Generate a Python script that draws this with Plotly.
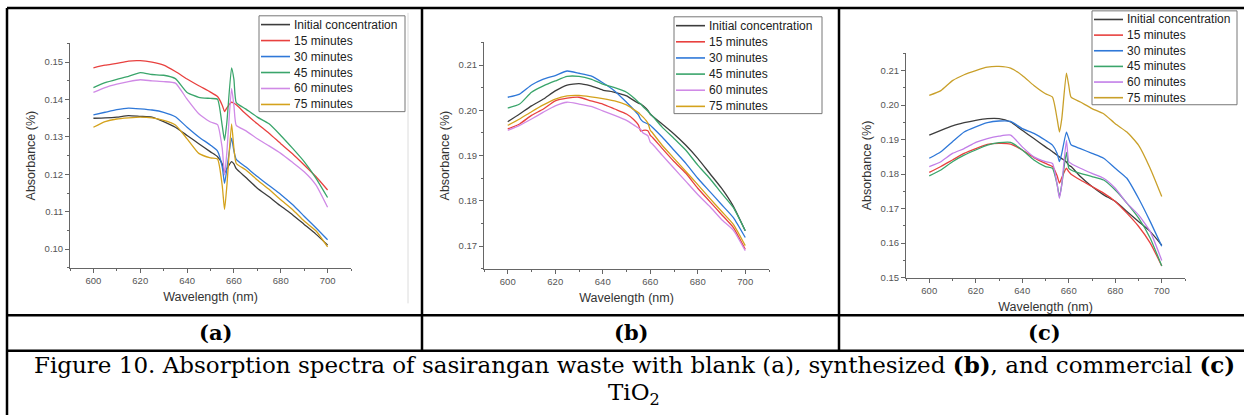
import plotly.graph_objects as go

W, H = 1244, 420

# Wavelength grid (nm) shared by all spectra
wavelength = [600, 605, 610, 615, 620, 625, 630, 635, 640, 645, 650, 653, 655,
              656, 657, 659, 660, 661, 665, 670, 675, 680, 685, 690, 695, 700]

series_names = ["Initial concentration", "15 minutes", "30 minutes",
                "45 minutes", "60 minutes", "75 minutes"]

# (a) blank
a_init = [.1350, .1351, .1353, .1357, .1355, .1353, .1341, .1326, .1304, .1282, .1260, .1247, .1228,
          .1203, .1215, .1234, .1228, .1215, .1192, .1163, .1140, .1115, .1092, .1066, .1040, .1011]
a_15 = [.1485, .1492, .1497, .1503, .1504, .1500, .1492, .1475, .1455, .1437, .1420, .1408, .1385,
        .1368, .1378, .1393, .1390, .1386, .1362, .1335, .1310, .1282, .1255, .1225, .1194, .1158]
a_30 = [.1359, .1366, .1373, .1377, .1375, .1372, .1366, .1354, .1326, .1300, .1278, .1262, .1220,
        .1176, .1215, .1297, .1262, .1240, .1220, .1194, .1170, .1146, .1119, .1088, .1057, .1025]
a_45 = [.1432, .1445, .1454, .1462, .1472, .1467, .1465, .1456, .1419, .1406, .1403, .1401, .1330,
        .1291, .1340, .1485, .1454, .1392, .1375, .1353, .1335, .1304, .1270, .1234, .1190, .1138]
a_60 = [.1419, .1432, .1441, .1448, .1453, .1450, .1448, .1444, .1401, .1362, .1340, .1333, .1270,
        .1198, .1260, .1430, .1384, .1331, .1317, .1295, .1276, .1256, .1232, .1207, .1172, .1112]
a_75 = [.1326, .1341, .1348, .1351, .1353, .1351, .1344, .1332, .1295, .1256, .1244, .1241, .1170,
        .1106, .1170, .1335, .1269, .1229, .1212, .1185, .1160, .1132, .1106, .1075, .1049, .1006]

# (b) synthesized TiO2
b_init = [.1975, .1992, .2010, .2025, .2043, .2056, .2059, .2054, .2045, .2040, .2032, .2022, .2016,
          .2014, .2010, .2000, .1992, .1987, .1970, .1948, .1923, .1894, .1861, .1828, .1788, .1734]
b_15 = [.1959, .1970, .1989, .2003, .2021, .2027, .2029, .2021, .2014, .2003, .1992, .1980, .1968,
        .1954, .1956, .1955, .1945, .1940, .1916, .1887, .1861, .1828, .1799, .1770, .1741, .1693]
b_30 = [.2029, .2036, .2056, .2069, .2077, .2087, .2082, .2076, .2061, .2043, .2018, .2002, .1990,
        .1980, .1975, .1970, .1967, .1962, .1941, .1912, .1883, .1850, .1821, .1792, .1763, .1719]
b_45 = [.2005, .2014, .2040, .2054, .2065, .2075, .2075, .2069, .2058, .2050, .2040, .2028, .2018,
        .2014, .2008, .1998, .1992, .1987, .1963, .1938, .1912, .1879, .1850, .1817, .1785, .1734]
b_60 = [.1956, .1967, .1981, .1996, .2010, .2018, .2014, .2009, .1999, .1989, .1978, .1968, .1961,
        .1958, .1950, .1944, .1930, .1925, .1901, .1872, .1843, .1814, .1788, .1759, .1735, .1690]
b_75 = [.1967, .1981, .1997, .2012, .2025, .2032, .2033, .2030, .2026, .2021, .2012, .2002, .1995,
        .1990, .1985, .1972, .1956, .1950, .1923, .1894, .1865, .1836, .1806, .1777, .1748, .1701]

# (c) commercial TiO2
c_init = [.1913, .1927, .1940, .1949, .1956, .1961, .1961, .1951, .1927, .1903, .1879, .1865, .1855,
          .1850, .1845, .1835, .1826, .1822, .1793, .1764, .1740, .1721, .1692, .1663, .1634, .1594]
c_15 = [.1805, .1822, .1841, .1860, .1874, .1886, .1889, .1887, .1870, .1848, .1831, .1822, .1795,
        .1774, .1790, .1817, .1807, .1800, .1783, .1764, .1745, .1721, .1687, .1649, .1601, .1534]
c_30 = [.1846, .1865, .1894, .1922, .1937, .1949, .1954, .1953, .1932, .1918, .1898, .1884, .1860,
        .1836, .1860, .1922, .1903, .1885, .1874, .1860, .1846, .1817, .1788, .1730, .1663, .1591]
c_45 = [.1795, .1812, .1836, .1855, .1870, .1884, .1891, .1892, .1870, .1841, .1822, .1817, .1770,
        .1735, .1770, .1863, .1817, .1812, .1802, .1793, .1783, .1754, .1716, .1673, .1615, .1534]
c_60 = [.1822, .1836, .1860, .1874, .1892, .1903, .1910, .1913, .1879, .1850, .1836, .1831, .1770,
        .1730, .1770, .1898, .1836, .1831, .1817, .1802, .1788, .1759, .1716, .1682, .1634, .1550]
c_75 = [.2028, .2042, .2071, .2088, .2100, .2110, .2112, .2107, .2086, .2057, .2033, .2023, .1960,
        .1922, .1960, .2093, .2057, .2023, .2009, .1990, .1975, .1946, .1922, .1884, .1817, .1735]

colors_ab = ["#3d3d3d", "#e8413f", "#2f78d8", "#3aa56b", "#d08ae6", "#d4a21c"]
colors_c = ["#3d3d3d", "#e8413f", "#2f78d8", "#3aa56b", "#c27ee8", "#c9a02a"]

panels = [
    # data, colors, axis ids, plot box in px (left, right, top, bottom), y range, y ticks,
    # legend box in px (left, right, top, bottom)
    ([a_init, a_15, a_30, a_45, a_60, a_75], colors_ab, "x", "y",
     (70, 351, 44, 271), [0.095, 0.155], [0.10, 0.11, 0.12, 0.13, 0.14, 0.15],
     (259, 405, 16, 113)),
    ([b_init, b_15, b_30, b_45, b_60, b_75], colors_ab, "x2", "y2",
     (484, 769, 43, 272), [0.165, 0.215], [0.17, 0.18, 0.19, 0.20, 0.21],
     (674, 822, 17, 115)),
    ([c_init, c_15, c_30, c_45, c_60, c_75], colors_c, "x3", "y3",
     (906, 1185, 54, 281), [0.150, 0.215], [0.15, 0.16, 0.17, 0.18, 0.19, 0.20, 0.21],
     (1092, 1237, 11, 106)),
]

fig = go.Figure()
axis_font = "Liberation Sans, Arial, sans-serif"
layout = {}
shapes = []
annotations = []


def px(x):
    return x / W


def py(y):
    return 1 - y / H


for data, cols, xa, ya, box, yr, yt, lbox in panels:
    for name, vals, col in zip(series_names, data, cols):
        fig.add_trace(go.Scatter(x=wavelength, y=vals, mode="lines", name=name,
                                 xaxis=xa, yaxis=ya, showlegend=False,
                                 line=dict(color=col, width=1.3, shape="spline", smoothing=0.5)))
    l, r, t, b = box
    xkey = "xaxis" if xa == "x" else "xaxis" + xa[1:]
    ykey = "yaxis" if ya == "y" else "yaxis" + ya[1:]
    layout[xkey] = dict(
        domain=[px(l), px(r)], range=[590, 710], anchor=ya,
        tickvals=[600, 620, 640, 660, 680, 700], ticks="outside", ticklen=4,
        tickcolor="#666", showline=True, linecolor="#666", linewidth=1,
        showgrid=False, zeroline=False,
        tickfont=dict(family=axis_font, size=9.5, color="#555"),
        minor=dict(ticks="outside", ticklen=2, dtick=10, tickcolor="#666"),
        title=dict(text="Wavelength (nm)", standoff=7,
                   font=dict(family=axis_font, size=12.5, color="#333")),
    )
    layout[ykey] = dict(
        domain=[py(b), py(t)], range=yr, anchor=xa,
        tickvals=yt, tickformat=".2f", ticks="outside", ticklen=4,
        tickcolor="#666", showline=True, linecolor="#666", linewidth=1,
        showgrid=False, zeroline=False,
        tickfont=dict(family=axis_font, size=9.5, color="#555"),
        minor=dict(ticks="outside", ticklen=2, dtick=0.005, tickcolor="#666"),
        title=dict(text="Absorbance (%)", standoff=6,
                   font=dict(family=axis_font, size=12.5, color="#333")),
    )

    # Legend: framed box with a short line swatch and label per series
    ll, lr, lt, lb = lbox
    shapes.append(dict(type="rect", xref="paper", yref="paper",
                       x0=px(ll), x1=px(lr), y0=py(lb), y1=py(lt),
                       line=dict(color="#777", width=1), fillcolor="white", layer="above"))
    row_h = (lb - lt) / 6
    for i, (name, col) in enumerate(zip(series_names, cols)):
        cy = lt + row_h * (i + 0.55)
        shapes.append(dict(type="line", xref="paper", yref="paper",
                           x0=px(ll + 2), x1=px(ll + 31), y0=py(cy), y1=py(cy),
                           line=dict(color=col, width=1.6), layer="above"))
        annotations.append(dict(text=name, x=px(ll + 33), y=py(cy), xref="paper", yref="paper",
                                showarrow=False, xanchor="left", yanchor="middle",
                                font=dict(family=axis_font, size=12, color="#222")))

# Faint edge of the embedded panel (a) image
shapes.append(dict(type="line", xref="paper", yref="paper", x0=px(408), x1=px(408),
                   y0=py(307), y1=py(13), line=dict(color="#dcdcdc", width=1)))

# Table frame around the three panels
black = dict(color="black", width=2.5)
shapes += [
    dict(type="line", xref="paper", yref="paper", x0=px(7), x1=1, y0=py(8), y1=py(8), line=black),
    dict(type="line", xref="paper", yref="paper", x0=px(7), x1=px(7), y0=0, y1=py(8), line=black),
    dict(type="line", xref="paper", yref="paper", x0=px(422), x1=px(422), y0=py(355), y1=py(8), line=black),
    dict(type="line", xref="paper", yref="paper", x0=px(839), x1=px(839), y0=py(355), y1=py(8), line=black),
    dict(type="line", xref="paper", yref="paper", x0=px(7), x1=1, y0=py(319), y1=py(319), line=black),
    dict(type="line", xref="paper", yref="paper", x0=px(7), x1=1, y0=py(355), y1=py(355), line=black),
]

serif = "DejaVu Serif, serif"
for label, cx in [("(a)", 215), ("(b)", 631), ("(c)", 1044)]:
    annotations.append(dict(text=f"<b>{label}</b>", x=px(cx), y=py(337), xref="paper", yref="paper",
                            showarrow=False, xanchor="center", yanchor="middle",
                            font=dict(family=serif, size=21, color="black")))
annotations.append(dict(
    text="Figure 10. Absorption spectra of sasirangan waste with blank (a), synthesized <b>(b)</b>, "
         "and commercial <b>(c)</b>",
    x=px(634), y=py(369), xref="paper", yref="paper", showarrow=False,
    xanchor="center", yanchor="middle", font=dict(family=serif, size=23, color="black")))
annotations.append(dict(
    text="TiO<sub>2</sub>", x=px(634), y=py(399), xref="paper", yref="paper", showarrow=False,
    xanchor="center", yanchor="middle", font=dict(family=serif, size=23, color="black")))

fig.update_layout(
    width=W, height=H, margin=dict(l=0, r=0, t=0, b=0),
    paper_bgcolor="white", plot_bgcolor="white", showlegend=False,
    shapes=shapes, annotations=annotations, **layout,
)

fig.write_html("out.html")
